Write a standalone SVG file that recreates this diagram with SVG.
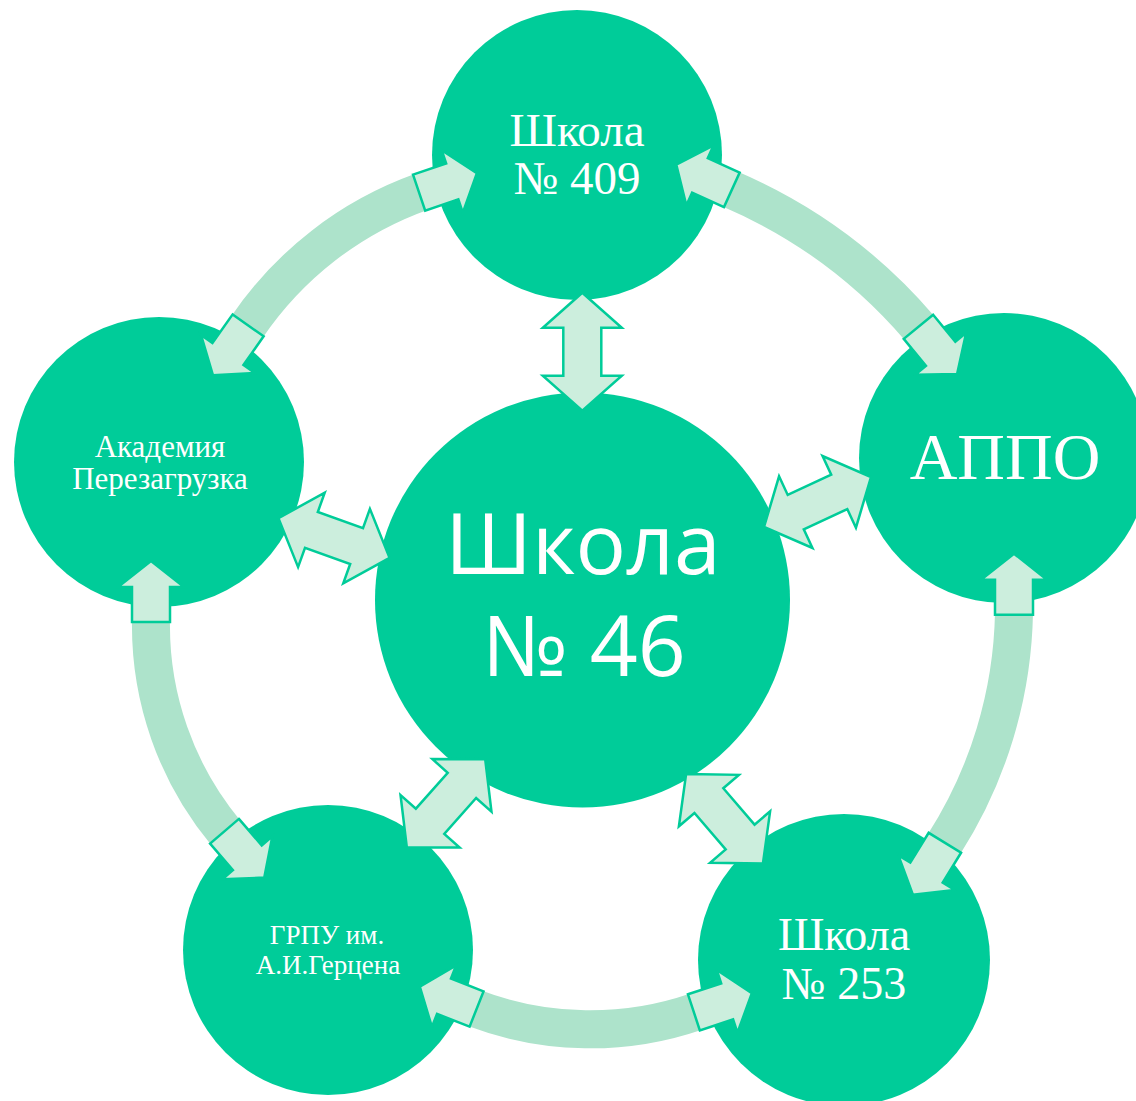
<svg xmlns="http://www.w3.org/2000/svg" xmlns:xlink="http://www.w3.org/1999/xlink" width="1136" height="1101" viewBox="0 0 1136 1101">
<style>
.node{fill:#00CC99}
.serif{font-family:"Liberation Serif","Times New Roman",serif;fill:#FFFFFF;text-anchor:middle}
.sans{font-family:"Open Sans","Noto Sans","DejaVu Sans",sans-serif;fill:#FFFFFF;text-anchor:middle}
.band{fill:none;stroke:#ADE3CB;stroke-width:38}
.arr{fill:#CCEEDD;stroke:#00CC99;stroke-width:2.5;stroke-linejoin:miter}
</style>
<defs>
<polygon id="ah" points="-2,-19 33,-19 33,-33 59,0 33,33 33,19 -2,19"/>
<polygon id="dbl" points="-59,0 -24,-39.5 -24,-19 24,-19 24,-39.5 59,0 24,39.5 24,19 -24,19 -24,39.5"/>
</defs>
<rect width="1136" height="1101" fill="#FFFFFF"/>
<g id="node-center">
<circle class="node" cx="582.5" cy="600" r="207.5"/>
<text class="sans" x="583" y="574" font-size="84">Школа</text>
<text class="sans" x="584" y="676" font-size="84">№ 46</text>
</g>
<g id="node-409">
<circle class="node" cx="577" cy="155" r="145"/>
<text class="serif" x="577" y="146" font-size="47">Школа</text>
<text class="serif" x="577" y="194" font-size="47">№ 409</text>
</g>
<g id="node-appo">
<circle class="node" cx="1004" cy="458" r="145"/>
<text class="serif" x="1005" y="479" font-size="66">АППО</text>
</g>
<g id="node-253">
<circle class="node" cx="844" cy="960" r="146"/>
<text class="serif" x="844" y="950" font-size="46">Школа</text>
<text class="serif" x="844" y="999" font-size="46">№ 253</text>
</g>
<g id="node-grpu">
<circle class="node" cx="328" cy="950" r="145"/>
<text class="serif" x="327" y="944" font-size="27">ГРПУ им.</text>
<text class="serif" x="328" y="974" font-size="27">А.И.Герцена</text>
</g>
<g id="node-academy">
<circle class="node" cx="159" cy="462" r="145"/>
<text class="serif" x="160" y="457" font-size="31">Академия</text>
<text class="serif" x="160" y="489" font-size="31">Перезагрузка</text>
</g>
<g id="connectors">
<path class="band" d="M247,327 A356,356 0 0 1 421,192"/>
<path class="band" d="M730,189 A519,519 0 0 1 919.7,328.3"/>
<path class="band" d="M1014,612.7 A445,445 0 0 1 943.8,844.5"/>
<path class="band" d="M695.8,1011.7 A326,326 0 0 1 474.7,1008.3"/>
<path class="band" d="M225.8,832.8 A324,324 0 0 1 151,620"/>
<use class="arr" xlink:href="#ah" transform="translate(421,192) rotate(-18.7)"/>
<use class="arr" xlink:href="#ah" transform="translate(247,327) rotate(125.3)"/>
<use class="arr" xlink:href="#ah" transform="translate(730,189) rotate(204.4)"/>
<use class="arr" xlink:href="#ah" transform="translate(919.7,328.3) rotate(50.6)"/>
<use class="arr" xlink:href="#ah" transform="translate(1014,612.7) rotate(-90)"/>
<use class="arr" xlink:href="#ah" transform="translate(943.8,844.5) rotate(121.6)"/>
<use class="arr" xlink:href="#ah" transform="translate(695.8,1011.7) rotate(-18.2)"/>
<use class="arr" xlink:href="#ah" transform="translate(474.7,1008.3) rotate(201.5)"/>
<use class="arr" xlink:href="#ah" transform="translate(225.8,832.8) rotate(49.3)"/>
<use class="arr" xlink:href="#ah" transform="translate(151,620) rotate(-90)"/>
<use class="arr" xlink:href="#dbl" transform="translate(582.3,351.7) rotate(90)"/>
<use class="arr" xlink:href="#dbl" transform="translate(334,538) rotate(19.7)"/>
<use class="arr" xlink:href="#dbl" transform="translate(817.5,502) rotate(-25)"/>
<use class="arr" xlink:href="#dbl" transform="translate(446,803.3) rotate(-48.4)"/>
<use class="arr" xlink:href="#dbl" transform="translate(724.5,818.8) rotate(49.4)"/>
</g>
</svg>
